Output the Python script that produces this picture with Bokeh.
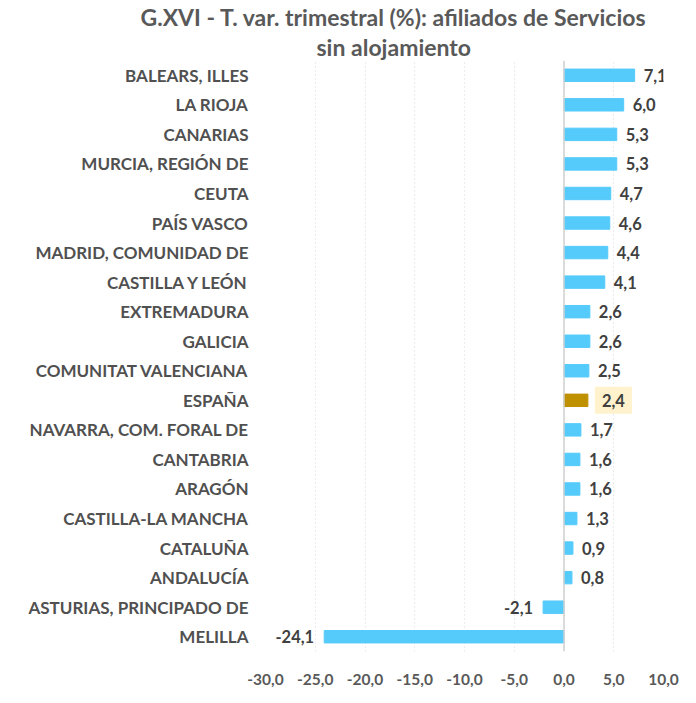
from bokeh.plotting import figure
from bokeh.models import ColumnDataSource, FactorRange, Span, Title, LabelSet, FixedTicker, CustomJSTickFormatter
from bokeh.embed import file_html
from bokeh.resources import INLINE
from bokeh.core.properties import value

regions = ["BALEARS, ILLES", "LA RIOJA", "CANARIAS", "MURCIA, REGIÓN DE", "CEUTA",
           "PAÍS VASCO", "MADRID, COMUNIDAD DE", "CASTILLA Y LEÓN", "EXTREMADURA", "GALICIA",
           "COMUNITAT VALENCIANA", "ESPAÑA", "NAVARRA, COM. FORAL DE", "CANTABRIA", "ARAGÓN",
           "CASTILLA-LA MANCHA", "CATALUÑA", "ANDALUCÍA", "ASTURIAS, PRINCIPADO DE", "MELILLA"]
values = [7.1, 6.0, 5.3, 5.3, 4.7, 4.6, 4.4, 4.1, 2.6, 2.6,
          2.5, 2.4, 1.7, 1.6, 1.6, 1.3, 0.9, 0.8, -2.1, -24.1]
x_ticks = [-30, -25, -20, -15, -10, -5, 0, 5, 10]
title_lines = ["G.XVI - T. var. trimestral (%): afiliados de Servicios", "sin alojamiento"]

FONT = "Lato"
BLUE = "#55CBFB"
GOLD = "#BF9000"

colors = [GOLD if r == "ESPAÑA" else BLUE for r in regions]
labels = [f"{v:.1f}".replace(".", ",") for v in values]

src = ColumnDataSource(dict(region=regions, val=values, color=colors, label=labels))

p = figure(width=680, height=687, y_range=FactorRange(factors=list(reversed(regions))),
           x_range=(-30, 10), output_backend="svg", toolbar_location=None,
           min_border_left=265, min_border_right=17, min_border_bottom=31, min_border_top=47)
p.outline_line_color = None
p.background_fill_color = "white"

p.hbar(y="region", right="val", left=0, height=0.42, color="color", source=src)

p.add_layout(Span(location=0, dimension="height", line_color="#D0D0D0", line_width=1.5))

pos = [i for i, v in enumerate(values) if v >= 0 and regions[i] != "ESPAÑA"]
neg = [i for i, v in enumerate(values) if v < 0]
esp = [i for i, r in enumerate(regions) if r == "ESPAÑA"]

def sub(idx):
    return ColumnDataSource(dict(region=[regions[i] for i in idx], val=[values[i] for i in idx],
                                 label=[labels[i] for i in idx]))

common = dict(text_font=value(FONT), text_font_style="bold", text_font_size="16.5px",
              text_color="#404040", text_baseline="middle")
p.add_layout(LabelSet(x="val", y="region", text="label", source=sub(pos), x_offset=9,
                      text_align="left", **common))
p.add_layout(LabelSet(x="val", y="region", text="label", source=sub(neg), x_offset=-10,
                      text_align="right", **common))
p.text(x="val", y="region", text="label", source=sub(esp), x_offset=7,
       text_align="left", background_fill_color="#FFF2CC", padding=7, **common)

p.xaxis.ticker = FixedTicker(ticks=x_ticks)
p.xaxis.formatter = CustomJSTickFormatter(code="return tick.toFixed(1).replace('.', ',');")
p.xaxis.axis_line_color = None
p.xaxis.major_tick_line_color = None
p.xaxis.minor_tick_line_color = None
p.xaxis.major_label_text_font = FONT
p.xaxis.major_label_text_font_style = "bold"
p.xaxis.major_label_text_font_size = "15.5px"
p.xaxis.major_label_text_color = "#595959"
p.xaxis.major_label_standoff = 16

p.yaxis.axis_line_color = None
p.yaxis.major_tick_line_color = None
p.yaxis.minor_tick_line_color = None
p.yaxis.major_label_text_font = FONT
p.yaxis.major_label_text_font_style = "bold"
p.yaxis.major_label_text_font_size = "17px"
p.yaxis.major_label_text_color = "#505050"
p.yaxis.major_label_standoff = 11

p.ygrid.grid_line_color = None
p.xgrid.ticker = FixedTicker(ticks=x_ticks)
p.xgrid.grid_line_color = "#D9D9D9"
p.xgrid.grid_line_dash = "1 3"

for line, off in zip(reversed(title_lines), [51, -125]):
    p.add_layout(Title(text=line, align="left", offset=off, standoff=0, text_line_height=1.0,
                       text_font=FONT, text_font_size="23px", text_font_style="bold",
                       text_color="#595959"), "above")

open("out.html", "w").write(file_html(p, INLINE))
